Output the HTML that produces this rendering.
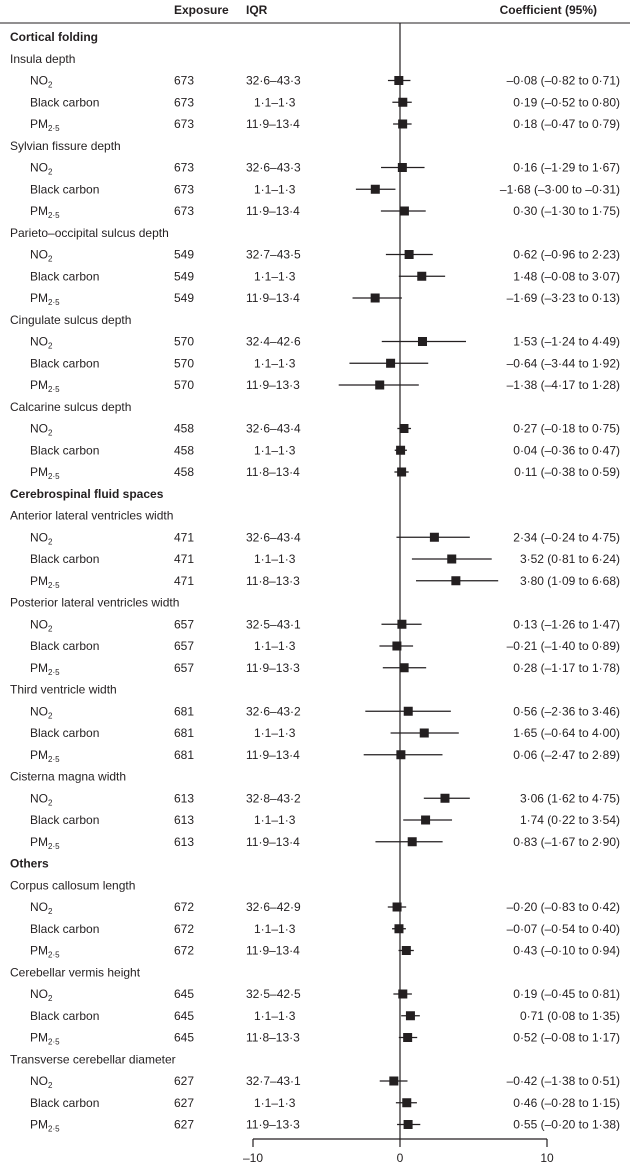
<!DOCTYPE html>
<html><head><meta charset="utf-8"><style>
html,body{margin:0;padding:0;background:#fff;}
svg{display:block;font-family:"Liberation Sans",sans-serif;}
text{fill:#231f20;font-size:12px;}
</style></head><body>
<svg id="chart" width="630" height="1168" viewBox="0 0 630 1168" xmlns="http://www.w3.org/2000/svg"></svg>
<script>
const groups = ["Cortical folding","Cerebrospinal fluid spaces","Others"];
const outcomes = ["Insula depth","Sylvian fissure depth","Parieto–occipital sulcus depth","Cingulate sulcus depth","Calcarine sulcus depth","Anterior lateral ventricles width","Posterior lateral ventricles width","Third ventricle width","Cisterna magna width","Corpus callosum length","Cerebellar vermis height","Transverse cerebellar diameter"];
const outcomeGroup = [0,0,0,0,0,1,1,1,1,2,2,2];
const exposures = ["NO2","Black carbon","PM2.5"];
const nValues = [673,673,549,570,458,471,657,681,613,672,645,627];
const iqrNO2 = ["32·6–43·3","32·6–43·3","32·7–43·5","32·4–42·6","32·6–43·4","32·6–43·4","32·5–43·1","32·6–43·2","32·8–43·2","32·6–42·9","32·5–42·5","32·7–43·1"];
const iqrBC = ["1·1–1·3","1·1–1·3","1·1–1·3","1·1–1·3","1·1–1·3","1·1–1·3","1·1–1·3","1·1–1·3","1·1–1·3","1·1–1·3","1·1–1·3","1·1–1·3"];
const iqrPM = ["11·9–13·4","11·9–13·4","11·9–13·4","11·9–13·3","11·8–13·4","11·8–13·3","11·9–13·3","11·9–13·4","11·9–13·4","11·9–13·4","11·8–13·3","11·9–13·3"];
const estNO2 = [-0.08,0.16,0.62,1.53,0.27,2.34,0.13,0.56,3.06,-0.20,0.19,-0.42];
const loNO2  = [-0.82,-1.29,-0.96,-1.24,-0.18,-0.24,-1.26,-2.36,1.62,-0.83,-0.45,-1.38];
const hiNO2  = [0.71,1.67,2.23,4.49,0.75,4.75,1.47,3.46,4.75,0.42,0.81,0.51];
const estBC = [0.19,-1.68,1.48,-0.64,0.04,3.52,-0.21,1.65,1.74,-0.07,0.71,0.46];
const loBC  = [-0.52,-3.00,-0.08,-3.44,-0.36,0.81,-1.40,-0.64,0.22,-0.54,0.08,-0.28];
const hiBC  = [0.80,-0.31,3.07,1.92,0.47,6.24,0.89,4.00,3.54,0.40,1.35,1.15];
const estPM = [0.18,0.30,-1.69,-1.38,0.11,3.80,0.28,0.06,0.83,0.43,0.52,0.55];
const loPM  = [-0.47,-1.30,-3.23,-4.17,-0.38,1.09,-1.17,-2.47,-1.67,-0.10,-0.08,-0.20];
const hiPM  = [0.79,1.75,0.13,1.28,0.59,6.68,1.78,2.89,2.90,0.94,1.17,1.38];
const xTicks = [-10,0,10];

const NS="http://www.w3.org/2000/svg";
const svg=document.getElementById('chart');
function xs(v){return 400+v*14.7;}
function rowY(i){return 37+i*21.75;}
function mk(tag,attrs,parent){const e=document.createElementNS(NS,tag);for(const k in attrs)e.setAttribute(k,attrs[k]);(parent||svg).appendChild(e);return e;}
function fmt(v){const s=Math.abs(v).toFixed(2).replace('.','·');return (v<0?'–':'')+s;}
function txt(x,y,s,anchor,bold){const t=mk('text',{x:x,y:y+4,'text-anchor':anchor||'start'});if(bold)t.setAttribute('font-weight','bold');t.textContent=s;return t;}
function expoLabel(x,y,name){
  const t=mk('text',{x:x,y:y+4});
  if(name==="NO2"){t.appendChild(document.createTextNode("NO"));const s=mk('tspan',{'font-size':'8','dy':'3'},t);s.textContent="2";}
  else if(name==="PM2.5"){t.appendChild(document.createTextNode("PM"));const s=mk('tspan',{'font-size':'8','dy':'3'},t);s.textContent="2·5";}
  else t.textContent=name;
  return t;
}
// header
let h;
h=txt(174,10,"Exposure",'start',true);
h=txt(246,10,"IQR",'start',true);
h=txt(597,10,"Coefficient (95%)",'end',true);
const hl=mk('line',{x1:0,x2:630,y1:23,y2:23,stroke:'#231f20','stroke-width':1});

// zero line
const zl=mk('line',{x1:xs(0),x2:xs(0),y1:23,y2:1139,stroke:'#231f20','stroke-width':1.2});

// axis
const ax=mk('line',{x1:xs(-10),x2:xs(10),y1:1139,y2:1139,stroke:'#231f20','stroke-width':1.2});

xTicks.forEach(v=>{
  const tk=mk('line',{x1:xs(v),x2:xs(v),y1:1139,y2:1147,stroke:'#231f20','stroke-width':1.2});
  
  const tl=mk('text',{x:xs(v),y:1162,'text-anchor':'middle'});
  tl.textContent=v<0?('–'+Math.abs(v)):String(v);
  
});
let row=0,lastG=-1;
outcomes.forEach((o,i)=>{
  if(outcomeGroup[i]!==lastG){lastG=outcomeGroup[i];
    const g=txt(10,rowY(row),groups[lastG],'start',true);
    row++;}
  const ot=txt(10,rowY(row),o);
  row++;
  const sets=[[estNO2,loNO2,hiNO2,iqrNO2],[estBC,loBC,hiBC,iqrBC],[estPM,loPM,hiPM,iqrPM]];
  sets.forEach((s,k)=>{
    const y=rowY(row);
    const el=expoLabel(30,y,exposures[k]);
    
    const nt=txt(174,y,String(nValues[i]));
    
    const it=txt(k===1?254:246,y,s[3][i]);
    
    const ci=mk('line',{x1:xs(s[1][i]),x2:xs(s[2][i]),y1:y,y2:y,stroke:'#231f20','stroke-width':1.3});
    
    const pt=mk('rect',{x:xs(s[0][i])-4.5,y:y-4.5,width:9,height:9,fill:'#231f20'});
    
    const ct=txt(620,y,fmt(s[0][i])+" ("+fmt(s[1][i])+" to "+fmt(s[2][i])+")",'end');
    
    row++;
  });
});
</script>
</body></html>
